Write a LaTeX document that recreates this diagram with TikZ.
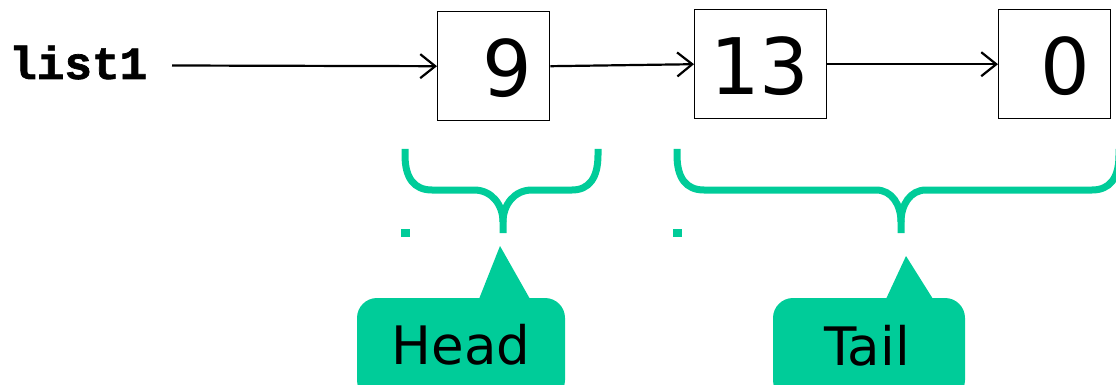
\documentclass[tikz,border=0pt]{standalone}
\usepackage{fontspec}
\setmainfont{DejaVu Sans}
\newfontfamily\codefont[FakeBold=1.5]{Liberation Mono}
\usetikzlibrary{arrows.meta}
\definecolor{teal}{RGB}{0,204,153}
\tikzset{
  cell/.style={draw=black, line width=1.4pt, minimum width=112pt, minimum height=109pt, inner sep=0pt, anchor=north west},
  digit/.style={font=\fontsize{78}{80}\selectfont, anchor=base, inner sep=0pt},
  link/.style={line width=2.2pt, -{Straight Barb[length=15pt, width=24pt, line width=2.2pt]}},
  brace/.style={draw=teal, line width=7pt},
  callout/.style={fill=teal, draw=none},
  calltext/.style={font=\fontsize{53}{55}\selectfont, anchor=base, inner sep=0pt, text=black}
}
\begin{document}
\begin{tikzpicture}[x=1pt,y=-1pt]
\useasboundingbox (0,0) rectangle (1116,385);
\clip (0,0) rectangle (1116,385);
% label
\node[font=\codefont\bfseries\fontsize{46}{47}\selectfont, anchor=base west, inner sep=0pt] (list1) at (9,79) {list1};
% boxes
\node[cell] (b1) at (437,11) {};
\node[cell, minimum width=132pt] (b2) at (694,9) {};
\node[cell] (b3) at (998,9) {};
\node[digit] (t1) at (507,97) {9};
\node[digit] (t2) at (760,95) {13};
\node[digit] (t3) at (1065,95) {0};
% connectors
\coordinate (s) at (172,65.5);
\draw[link] (s) -- (b1.west);
\draw[link] (b1.east) -- (b2.west);
\draw[link] (b2.east) -- (b3.west);
% braces
\draw[brace] (405,149) -- (405,155) .. controls (405,178) and (414,190) .. (432,190) -- (474,190) .. controls (492,190) and (503,205) .. (503,222) -- (503,233);
\draw[brace] (598,149) -- (598,155) .. controls (598,178) and (589,190) .. (572,190) -- (532,190) .. controls (514,190) and (503,205) .. (503,222);
\draw[brace] (677,149) -- (677,155) .. controls (677,178) and (686,190) .. (704,190) -- (876,190) .. controls (892,190) and (901,205) .. (901,222) -- (901,233);
\draw[brace] (1119,149) -- (1119,155) .. controls (1119,178) and (1110,190) .. (1092,190) -- (926,190) .. controls (910,190) and (901,205) .. (901,222);
\fill[teal] (401,229) rectangle (410,237);
\fill[teal] (673,229) rectangle (682,237);
% callouts
\fill[callout, rounded corners=20pt] (357,298) rectangle (565,400);
\fill[callout] (479,299) -- (500,246) -- (530,299) -- cycle;
\node[calltext] (head) at (461,364) {Head};
\fill[callout, rounded corners=20pt] (773,298) rectangle (965,400);
\fill[callout] (886,299) -- (906,256) -- (933,299) -- cycle;
\node[calltext] (tail) at (867,365) {Tail};
\end{tikzpicture}
\end{document}
